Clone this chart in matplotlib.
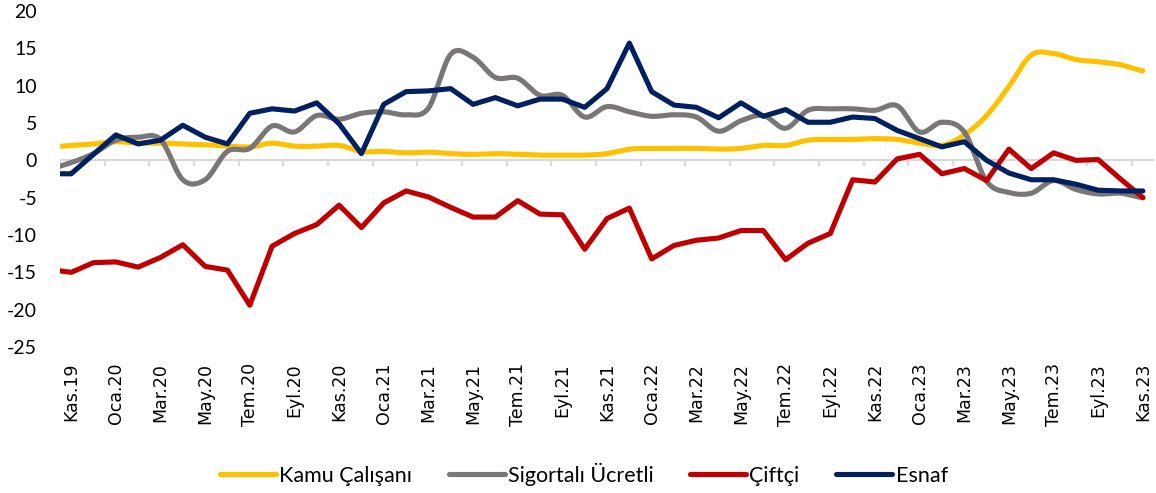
import numpy as np
import matplotlib.pyplot as plt

plt.rcParams["font.family"] = ["Lato", "DejaVu Sans"]
plt.rcParams["axes.unicode_minus"] = False

# month index -1 = Eki.19 (only partly visible, clipped at the left edge), 48 = Kas.23
months = np.arange(-1, 49)
tick_labels = ["Kas.19", "Oca.20", "Mar.20", "May.20", "Tem.20", "Eyl.20", "Kas.20",
               "Oca.21", "Mar.21", "May.21", "Tem.21", "Eyl.21", "Kas.21",
               "Oca.22", "Mar.22", "May.22", "Tem.22", "Eyl.22", "Kas.22",
               "Oca.23", "Mar.23", "May.23", "Tem.23", "Eyl.23", "Kas.23"]

kamu = [1.8,
        2.0, 2.2, 2.5, 2.3, 2.3, 2.2, 2.1, 1.9, 1.8, 2.3,
        1.9, 1.9, 2.0, 1.2, 1.2, 1.0, 1.1, 0.9, 0.8, 0.9,
        0.8, 0.7, 0.7, 0.7, 0.9, 1.5, 1.6, 1.6, 1.6, 1.5,
        1.6, 2.0, 2.0, 2.7, 2.8, 2.8, 2.9, 2.8, 2.3, 2.0,
        3.4, 6.0, 9.9, 14.1, 14.3, 13.5, 13.2, 12.8, 12.0]
sigortali = [-1.1,
             -0.3, 0.9, 2.7, 3.1, 2.8, -2.6, -2.6, 1.2, 1.6, 4.6,
             3.8, 6.0, 5.5, 6.3, 6.5, 6.1, 7.0, 14.2, 13.8, 11.1,
             11.0, 8.7, 8.7, 5.8, 7.2, 6.5, 5.9, 6.1, 5.8, 3.9,
             5.3, 6.0, 4.3, 6.7, 6.9, 6.9, 6.7, 7.3, 3.8, 5.1,
             3.8, -2.8, -4.3, -4.4, -2.7, -3.9, -4.5, -4.4, -5.0]
ciftci = [-14.6,
          -15.0, -13.7, -13.6, -14.3, -13.0, -11.3, -14.2, -14.7, -19.4, -11.5,
          -9.8, -8.6, -6.0, -9.0, -5.7, -4.1, -4.9, -6.3, -7.6, -7.6,
          -5.4, -7.2, -7.3, -11.9, -7.8, -6.4, -13.2, -11.4, -10.7, -10.4,
          -9.4, -9.4, -13.3, -11.1, -9.8, -2.6, -2.9, 0.2, 0.8, -1.8,
          -1.1, -2.7, 1.5, -1.1, 1.0, 0.0, 0.1, -2.5, -5.0]
esnaf = [-1.8,
         -1.8, 0.8, 3.4, 2.2, 2.7, 4.7, 3.1, 2.2, 6.3, 6.9,
         6.6, 7.7, 4.9, 0.9, 7.5, 9.2, 9.3, 9.6, 7.5, 8.4,
         7.3, 8.2, 8.2, 7.1, 9.6, 15.7, 9.2, 7.4, 7.1, 5.7,
         7.7, 5.9, 6.8, 5.1, 5.1, 5.8, 5.6, 4.0, 2.9, 1.8,
         2.5, 0.0, -1.7, -2.6, -2.6, -3.2, -4.0, -4.1, -4.1]


def smooth(x, y, n=16):
    # Catmull-Rom curve through the points (like Excel's "smoothed line")
    x = np.asarray(x, float)
    y = np.asarray(y, float)
    xs, ys = [], []
    t = np.linspace(0, 1, n, endpoint=False)
    for i in range(len(x) - 1):
        p0 = y[i - 1] if i > 0 else y[i]
        p3 = y[i + 2] if i + 2 < len(y) else y[i + 1]
        p1, p2 = y[i], y[i + 1]
        m1 = (p2 - p0) / 2
        m2 = (p3 - p1) / 2
        h00 = 2 * t**3 - 3 * t**2 + 1
        h10 = t**3 - 2 * t**2 + t
        h01 = -2 * t**3 + 3 * t**2
        h11 = t**3 - t**2
        xs.append(x[i] + t * (x[i + 1] - x[i]))
        ys.append(h00 * p1 + h10 * m1 + h01 * p2 + h11 * m2)
    xs.append([x[-1]])
    ys.append([y[-1]])
    return np.concatenate(xs), np.concatenate(ys)


fig = plt.figure(figsize=(11.56, 4.93), dpi=100)
ax = fig.add_axes([0.0519, 0.2961, 0.9464, 0.6816])

lw = 3.7
ax.axhline(0, color="#d9d9d9", lw=1.6, zorder=1)
ax.vlines(np.arange(-0.5, 48.6, 2), -0.75, 0, color="#d9d9d9", lw=1.6, zorder=1)

sx, sy = smooth(months, kamu)
ax.plot(sx, sy, color="#FFC000", lw=lw, label="Kamu Çalışanı", solid_capstyle="round")
sx, sy = smooth(months, sigortali)
ax.plot(sx, sy, color="#7A7676", lw=lw, label="Sigortalı Ücretli", solid_capstyle="round")
ax.plot(months, ciftci, color="#C00000", lw=lw, label="Çiftçi", solid_capstyle="round")
ax.plot(months, esnaf, color="#002060", lw=lw, label="Esnaf", solid_capstyle="round")

ax.set_xlim(-0.5, 48.5)
ax.set_ylim(-25, 20)
ax.set_yticks(range(-25, 21, 5))
ax.set_xticks(np.arange(0, 49, 2))
ax.set_xticklabels(tick_labels, rotation=90, family="DejaVu Sans", fontsize=12.5)
ax.tick_params(axis="x", length=0, pad=11.5)
ax.tick_params(axis="y", length=0, pad=16.5, labelsize=14)
for s in ax.spines.values():
    s.set_visible(False)

fig.legend(loc="center", bbox_to_anchor=(0.505, 0.038), ncol=4, frameon=False,
           fontsize=15.5, handlelength=2.6, handletextpad=0.15, columnspacing=1.7)

fig.savefig("out.png", dpi=100)
